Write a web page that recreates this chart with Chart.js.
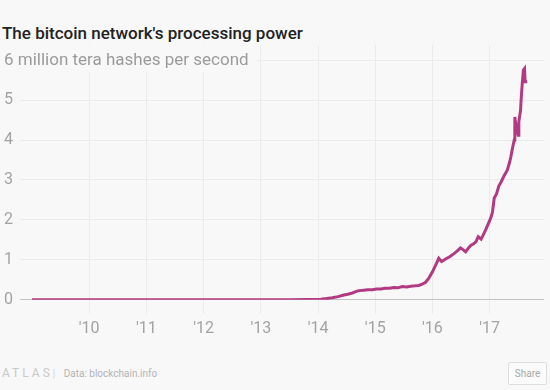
<!DOCTYPE html>
<html>
<head>
<meta charset="utf-8">
<script src="https://cdn.jsdelivr.net/npm/chart.js@4"></script>
<style>
  html, body { margin: 0; padding: 0; background: #f8f8f8; }
  body { width: 550px; height: 390px; position: relative; overflow: hidden; font-family: Roboto, "Open Sans", sans-serif; }
  #title { position: absolute; left: 2px; top: 23px; font-size: 17px; font-weight: 500; color: #222; white-space: nowrap; }
  #wrap { position: absolute; left: 0; top: 0; width: 550px; height: 345px; }
  #footer { position: absolute; left: 2px; top: 366px; font-size: 10px; color: #b4b4b4; white-space: nowrap; }
  #logo { letter-spacing: 3px; color: #c9c9c9; font-size: 12px; }
  #sep { color: #d0d0d0; margin: 0 6px 0 0; }
  #share { position: absolute; left: 508px; top: 362px; width: 37px; height: 21px; border: 1px solid #dedede; border-radius: 2px; font-size: 10px; color: #a8a8a8; text-align: center; line-height: 21px; background: #fbfbfb; }
</style>
</head>
<body>
<div id="title">The bitcoin network's processing power</div>
<div id="wrap"><canvas id="c" width="550" height="345"></canvas></div>
<div id="footer"><span id="logo">ATLAS</span><span id="sep">|</span> Data: blockchain.info</div>
<div id="share">Share</div>
<script>
// Decimal year of each observation
const dates = [
  2009.0, 2009.5, 2010.0, 2010.5, 2011.0, 2011.5, 2012.0, 2012.5, 2013.0, 2013.5,
  2013.8, 2013.95, 2014.05, 2014.15, 2014.25, 2014.35, 2014.45, 2014.52, 2014.6, 2014.67,
  2014.72, 2014.8, 2014.87, 2014.95, 2015.02, 2015.1, 2015.17, 2015.25, 2015.32, 2015.4,
  2015.47, 2015.55, 2015.62, 2015.7, 2015.76, 2015.82, 2015.88, 2015.94, 2016.0, 2016.05,
  2016.11, 2016.16, 2016.23, 2016.3, 2016.37, 2016.43, 2016.49, 2016.54, 2016.58, 2016.63,
  2016.67, 2016.72, 2016.76, 2016.8, 2016.85, 2016.88, 2016.93, 2016.97, 2017.02, 2017.05,
  2017.08, 2017.12, 2017.16, 2017.2, 2017.25, 2017.29, 2017.31, 2017.35, 2017.37, 2017.4,
  2017.43, 2017.44, 2017.47, 2017.5, 2017.51, 2017.54, 2017.55, 2017.57, 2017.59, 2017.61,
  2017.62, 2017.63
];
// Hash rate, million tera hashes per second
const hashRate = [
  0, 0, 0, 0, 0.001, 0.001, 0.001, 0.002, 0.002, 0.003,
  0.006, 0.01, 0.015, 0.03, 0.05, 0.08, 0.12, 0.14, 0.17, 0.21,
  0.23, 0.24, 0.25, 0.25, 0.27, 0.27, 0.29, 0.29, 0.31, 0.3,
  0.33, 0.32, 0.34, 0.35, 0.36, 0.39, 0.44, 0.55, 0.7, 0.85,
  1.04, 0.96, 1.02, 1.08, 1.15, 1.22, 1.3, 1.25, 1.2, 1.3,
  1.36, 1.4, 1.45, 1.58, 1.52, 1.6, 1.75, 1.88, 2.05, 2.2,
  2.55, 2.65, 2.85, 2.95, 3.1, 3.2, 3.25, 3.45, 3.58, 3.8,
  4.0, 4.58, 4.25, 4.12, 4.46, 4.75, 5.0, 5.42, 5.75, 5.79,
  5.46, 5.5
];
const tickYears = [2010, 2011, 2012, 2013, 2014, 2015, 2016, 2017];
const tickLabels = ["'10", "'11", "'12", "'13", "'14", "'15", "'16", "'17"];
const yTicks = [0, 1, 2, 3, 4, 5, 6];
const unitLabel = "6 million tera hashes per second";

const BG = '#f8f8f8';
const FONT = 'Roboto, "Open Sans", sans-serif';
const subtitlePlugin = {
  id: 'unitLabel',
  afterDraw(chart) {
    const y = chart.scales.y.getPixelForValue(6);
    const ctx = chart.ctx;
    ctx.save();
    ctx.font = '400 17px ' + FONT;
    const w = ctx.measureText(unitLabel).width;
    ctx.fillStyle = BG;
    ctx.fillRect(0, y - 14, w + 12, 26);
    ctx.fillStyle = '#9b9b9b';
    ctx.textBaseline = 'middle';
    ctx.textAlign = 'left';
    ctx.fillText(unitLabel, 4, y + 1);
    ctx.restore();
  }
};

const points = dates.map((d, i) => ({ x: d, y: hashRate[i] }));

new Chart(document.getElementById('c'), {
  type: 'line',
  data: {
    datasets: [{
      data: points,
      borderColor: '#b23a82',
      borderWidth: 3,
      pointRadius: 0,
      tension: 0,
      fill: false
    }]
  },
  options: {
    responsive: false,
    animation: false,
    events: [],
    layout: { padding: { top: 45, left: 4, right: 6, bottom: 0 } },
    plugins: { legend: { display: false }, tooltip: { enabled: false }, title: { display: false } },
    scales: {
      x: {
        type: 'linear',
        min: 2008.79,
        max: 2017.95,
        afterBuildTicks(scale) { scale.ticks = tickYears.map(v => ({ value: v })); },
        ticks: {
          callback(v) { const i = tickYears.indexOf(v); return i >= 0 ? tickLabels[i] : ''; },
          color: '#a3a3a3',
          font: { family: FONT, size: 16 },
          padding: 6,
          maxRotation: 0,
          autoSkip: false
        },
        grid: { color: '#ebebeb', lineWidth: 1, tickLength: 14, drawTicks: true },
        border: { display: false }
      },
      y: {
        type: 'linear',
        min: 0,
        max: 6.38,
        afterBuildTicks(scale) { scale.ticks = yTicks.map(v => ({ value: v })); },
        afterFit(scale) { scale.width = 16; },
        ticks: {
          callback(v) { return v === 6 ? '' : String(v); },
          color: '#a3a3a3',
          font: { family: FONT, size: 16 },
          crossAlign: 'far',
          padding: 6
        },
        grid: {
          color(ctx) { return ctx.tick && ctx.tick.value === 0 ? '#c2c2c2' : '#ebebeb'; },
          drawTicks: false
        },
        border: { display: false }
      }
    }
  },
  plugins: [subtitlePlugin]
});
</script>
</body>
</html>
